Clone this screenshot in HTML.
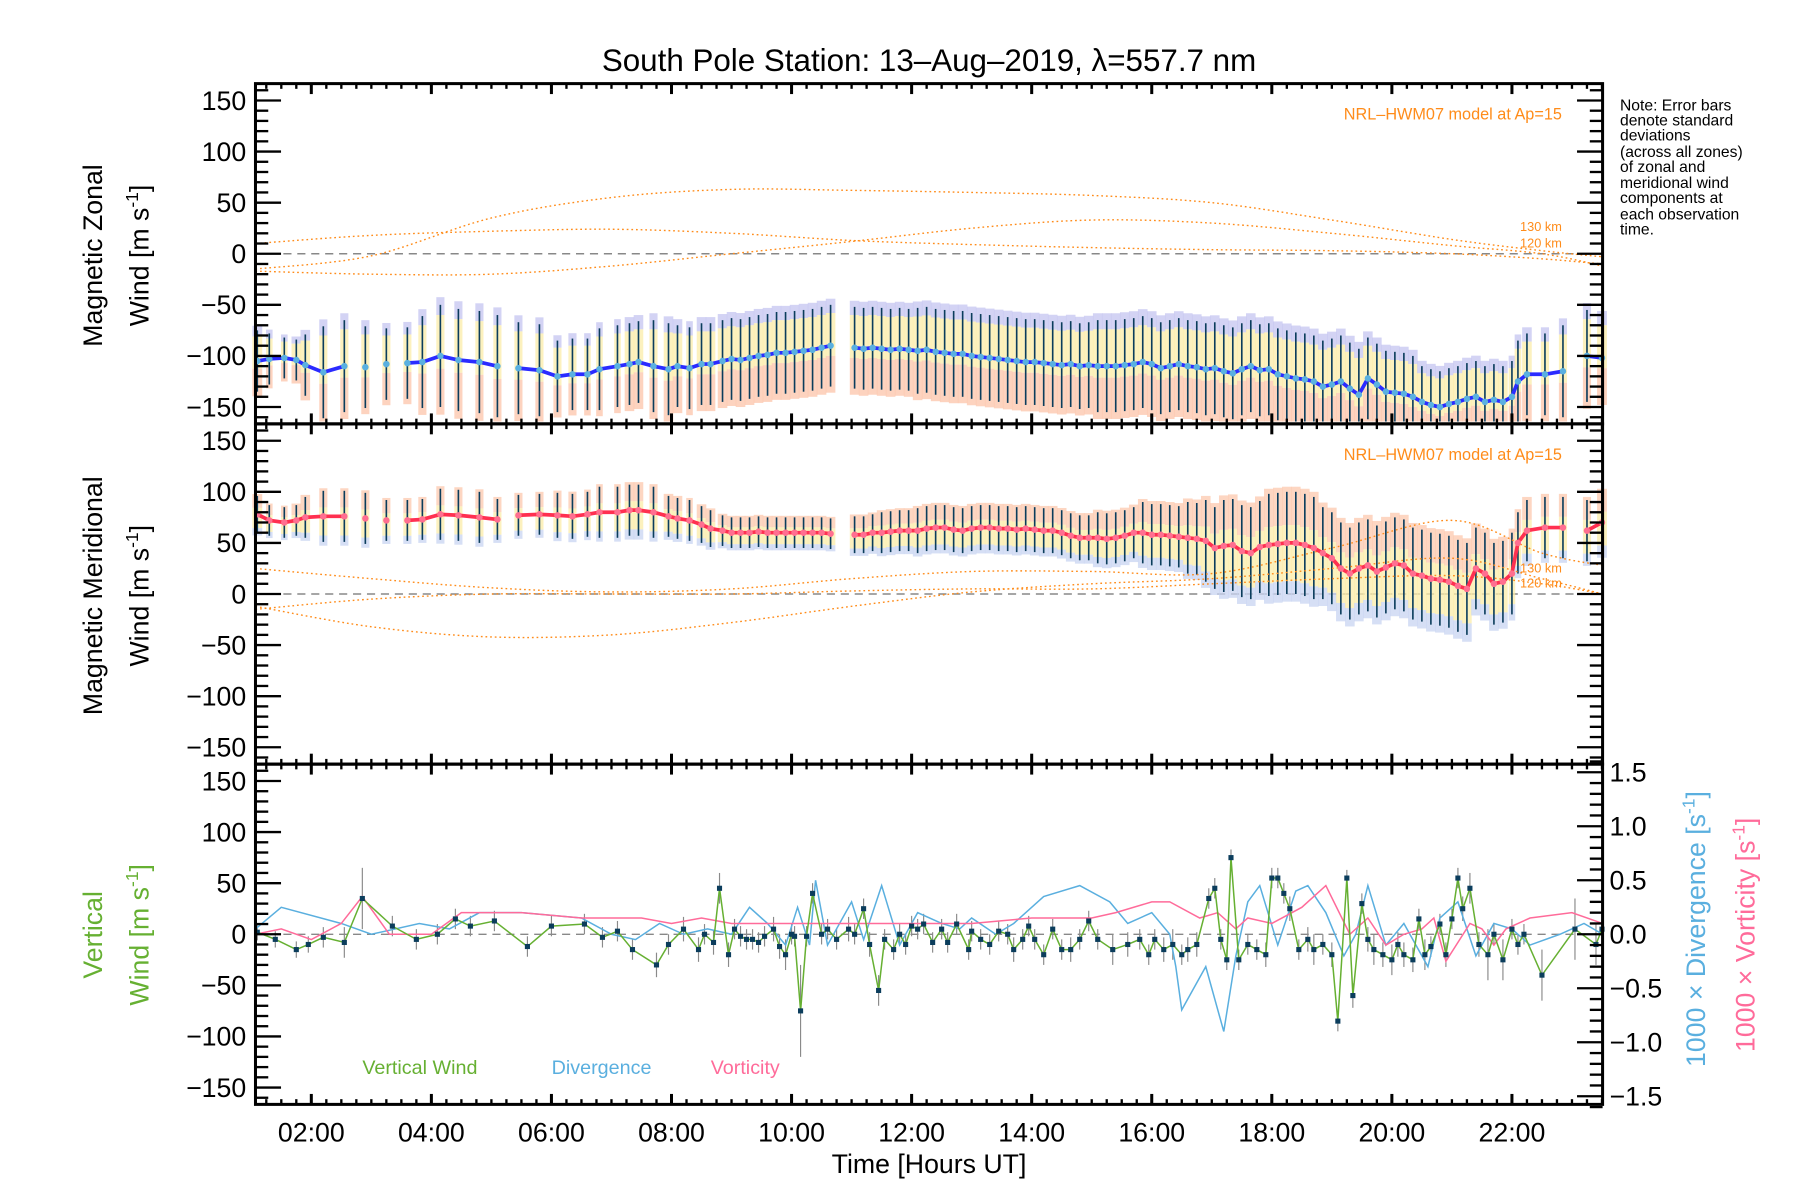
<!DOCTYPE html>
<html><head><meta charset="utf-8"><title>South Pole Station winds</title>
<style>
html,body{margin:0;padding:0;background:#fff;}
svg{display:block;font-family:"Liberation Sans",sans-serif;}
</style></head>
<body>
<svg id="chart" xmlns="http://www.w3.org/2000/svg" width="1800" height="1200" viewBox="0 0 1550 1033.33">
<rect x="0" y="0" width="1550" height="1034" fill="#fff"/>
<text x="800" y="61" font-size="27" text-anchor="middle">South Pole Station: 13–Aug–2019, λ=557.7 nm</text>
<g id="layer-samples"></g>
<g id="layer-lines"></g>
<g id="layer-axes"></g>
<g font-size="23">
<text transform="translate(88,220) rotate(-90)" text-anchor="middle">Magnetic Zonal</text>
<text transform="translate(128,220) rotate(-90)" text-anchor="middle">Wind [m s<tspan dy="-9" font-size="15">-1</tspan><tspan dy="9">]</tspan></text>
</g>
<g font-size="23">
<text transform="translate(88,513) rotate(-90)" text-anchor="middle">Magnetic Meridional</text>
<text transform="translate(128,513) rotate(-90)" text-anchor="middle">Wind [m s<tspan dy="-9" font-size="15">-1</tspan><tspan dy="9">]</tspan></text>
</g>
<g font-size="23" fill="#66b032">
<text transform="translate(88,805) rotate(-90)" text-anchor="middle">Vertical</text>
<text transform="translate(128,805) rotate(-90)" text-anchor="middle">Wind [m s<tspan dy="-9" font-size="15">-1</tspan><tspan dy="9">]</tspan></text>
</g>
<text transform="translate(1468,800) rotate(-90)" text-anchor="middle" font-size="23" fill="#5aafdf">1000 × Divergence [s<tspan dy="-9" font-size="15">-1</tspan><tspan dy="9">]</tspan></text>
<text transform="translate(1511,805) rotate(-90)" text-anchor="middle" font-size="23" fill="#ff6b9a">1000 × Vorticity [s<tspan dy="-9" font-size="15">-1</tspan><tspan dy="9">]</tspan></text>
<text x="800" y="1010" font-size="23" text-anchor="middle">Time [Hours UT]</text>
<g font-size="13.5">
<text x="1395" y="95">Note: Error bars</text>
<text x="1395" y="108">denote standard</text>
<text x="1395" y="121">deviations</text>
<text x="1395" y="135">(across all zones)</text>
<text x="1395" y="148">of zonal and</text>
<text x="1395" y="162">meridional wind</text>
<text x="1395" y="175">components at</text>
<text x="1395" y="189">each observation</text>
<text x="1395" y="202">time.</text>
</g>
<g fill="#ff8c1a">
<text x="1345" y="103" font-size="14" text-anchor="end">NRL–HWM07 model at Ap=15</text>
<text x="1345" y="199" font-size="11" text-anchor="end">130 km</text>
<text x="1345" y="213" font-size="11" text-anchor="end">120 km</text>
<text x="1345" y="396" font-size="14" text-anchor="end">NRL–HWM07 model at Ap=15</text>
<text x="1345" y="493" font-size="11" text-anchor="end">130 km</text>
<text x="1345" y="506" font-size="11" text-anchor="end">120 km</text>
</g>
<text x="312" y="925" font-size="17" fill="#66b032">Vertical Wind</text>
<text x="475" y="925" font-size="17" fill="#5aafdf">Divergence</text>
<text x="612" y="925" font-size="17" fill="#ff6b9a">Vorticity</text>
</svg>
<script>
// ---------- data ----------
const times = [1.1,1.3,1.55,1.75,1.9,2.2,2.55,2.9,3.25,3.6,
 3.85,4.15,4.45,4.8,5.1,5.45,5.8,6.1,6.35,6.6,
 6.8,7.1,7.3,7.45,7.7,7.95,8.1,8.3,8.5,8.65,
 8.85,9.0,9.15,9.3,9.45,9.6,9.75,9.9,10.05,10.2,
 10.35,10.5,10.65,11.05,11.2,11.35,11.5,11.65,11.8,11.95,
 12.1,12.25,12.4,12.55,12.7,12.85,13.0,13.15,13.3,13.45,
 13.6,13.75,13.9,14.05,14.2,14.35,14.5,14.65,14.8,14.95,
 15.1,15.25,15.4,15.55,15.7,15.85,16.0,16.15,16.3,16.45,
 16.6,16.75,16.9,17.05,17.2,17.35,17.5,17.65,17.8,17.95,
 18.1,18.25,18.4,18.55,18.7,18.85,19.0,19.15,19.3,19.45,
 19.6,19.75,19.9,20.05,20.2,20.35,20.5,20.65,20.8,20.95,
 21.1,21.25,21.4,21.55,21.7,21.85,22.0,22.1,22.25,22.55,
 22.85,23.25,23.5];
const zonal = [-105,-103,-102,-104,-109,-116,-110,-111,-108,-107,
 -106,-100,-104,-106,-110,-112,-114,-120,-118,-118,
 -113,-110,-108,-106,-110,-113,-110,-112,-108,-108,
 -105,-103,-104,-102,-100,-99,-97,-97,-96,-95,
 -94,-92,-90,-92,-93,-92,-93,-94,-93,-94,
 -95,-94,-96,-97,-98,-98,-100,-101,-102,-103,
 -104,-105,-106,-106,-107,-108,-109,-108,-110,-109,
 -110,-110,-110,-109,-108,-106,-108,-112,-110,-108,
 -110,-111,-113,-112,-115,-117,-113,-110,-114,-113,
 -118,-120,-122,-123,-125,-130,-128,-125,-132,-138,
 -122,-128,-135,-136,-137,-140,-145,-148,-150,-147,
 -145,-142,-140,-145,-143,-145,-140,-125,-118,-118,
 -115,-100,-102];
const zonalSd = [30,25,20,20,30,45,45,40,35,35,
 45,50,50,50,50,45,45,35,35,35,
 40,40,40,40,45,45,40,40,40,40,
 40,40,40,40,40,40,40,40,40,40,
 40,40,40,40,40,40,40,40,40,40,
 42,42,42,42,42,42,42,42,42,42,
 42,42,42,42,42,42,42,42,42,42,
 45,45,45,45,45,45,45,45,45,45,
 45,45,45,45,45,45,45,45,45,45,
 45,45,45,45,45,45,45,45,45,45,
 40,40,40,40,40,40,35,35,35,35,
 35,35,35,35,35,35,35,40,40,40,
 45,45,40];
const merid = [78,72,70,72,75,76,76,74,72,72,
 73,78,77,75,73,77,78,77,76,78,
 80,80,82,82,80,76,74,72,68,64,
 62,60,60,60,61,60,60,60,60,60,
 60,60,59,58,58,60,60,61,62,62,
 62,64,65,65,63,62,64,65,65,64,
 64,63,64,63,62,62,60,57,55,55,
 55,54,55,57,60,60,58,58,57,56,
 55,54,52,45,47,48,42,40,46,48,
 49,50,50,48,45,40,35,25,20,25,
 28,22,26,30,28,20,18,15,14,12,
 8,5,25,20,10,12,20,50,62,65,
 65,62,70];
const meridSd = [18,15,15,15,20,25,25,25,20,20,
 20,25,25,25,20,20,20,22,22,22,
 25,25,25,25,25,20,20,20,18,18,
 15,15,15,15,15,15,15,15,15,15,
 15,15,15,18,18,18,20,20,20,20,
 22,22,22,22,22,22,22,22,22,22,
 22,22,22,22,22,22,22,22,22,22,
 25,25,25,25,25,30,30,30,30,30,
 35,35,40,40,45,45,45,45,45,50,
 50,50,50,50,50,45,45,45,45,45,
 45,45,45,45,45,45,45,45,45,45,
 45,45,40,40,40,40,40,30,30,30,
 30,30,30];
// HWM07 model curves
const hwmTime = [1.07,3,5,7,9,11,13,15,17,19,21,22.5,23.51];
const hwmZonal130 = [10,18,22,24,20,13,9,6,4,3,0,-5,-10];
const hwmZonal120 = [-15,-2,35,55,63,62,60,57,50,33,14,3,-3];
const hwmZonal110 = [-17,-20,-20,-12,0,12,25,33,30,20,8,0,-12];
const hwmMerid130 = [25,15,6,2,5,15,22,22,20,45,72,40,28];
const hwmMerid120 = [-12,-32,-42,-40,-28,-12,2,10,15,25,35,15,0];
const hwmMerid110 = [-15,-5,0,0,0,3,5,5,10,15,18,10,0];
// vertical wind
const vTime = [1.1,1.4,1.75,1.95,2.2,2.55,2.85,3.35,3.75,4.1,
 4.4,4.65,5.05,5.6,6.0,6.55,6.85,7.1,7.35,7.75,
 7.95,8.2,8.45,8.55,8.7,8.8,8.95,9.05,9.15,9.25,
 9.35,9.45,9.55,9.7,9.8,9.9,10.0,10.05,10.15,10.25,
 10.35,10.5,10.6,10.75,10.95,11.05,11.2,11.3,11.45,11.55,
 11.7,11.8,11.9,12.0,12.1,12.2,12.35,12.5,12.6,12.75,
 12.95,13.0,13.15,13.3,13.45,13.6,13.7,13.85,13.95,14.05,
 14.2,14.35,14.5,14.65,14.8,14.95,15.1,15.35,15.6,15.8,
 15.95,16.05,16.2,16.35,16.5,16.6,16.75,16.95,17.05,17.15,
 17.25,17.32,17.45,17.6,17.75,17.9,18.0,18.1,18.2,18.3,
 18.45,18.6,18.7,18.85,19.0,19.1,19.25,19.35,19.5,19.6,
 19.7,19.85,20.0,20.1,20.2,20.35,20.45,20.55,20.65,20.8,
 20.9,21.0,21.1,21.18,21.3,21.45,21.6,21.7,21.85,22.0,
 22.1,22.2,22.5,23.05,23.4,23.5];
const vWind = [2,-5,-15,-10,-3,-8,35,8,-5,0,
 15,8,13,-12,8,10,-3,3,-15,-30,
 -10,5,-15,0,-8,45,-20,5,-2,-5,
 -5,-8,-2,5,-12,-20,0,-2,-75,-2,
 40,0,5,-5,5,0,25,-10,-55,-5,
 -15,0,-10,8,5,10,-8,5,-8,10,
 -15,3,-5,-10,3,0,-15,-5,8,-5,
 -20,5,-15,-15,-5,13,-5,-15,-10,-5,
 -20,-5,-15,-10,-20,-15,-10,35,45,-5,
 -25,75,-25,-10,-15,-20,55,55,40,25,
 -15,-5,-15,-10,-20,-85,55,-60,30,-5,
 -15,-20,-25,-10,-20,-25,15,-20,-12,10,
 -20,15,55,25,45,-10,-20,0,-25,5,
 -10,0,-40,5,-10,5];
const vErr = [8,8,8,8,10,15,30,10,10,10,
 10,10,10,10,10,10,10,10,10,12,
 10,12,12,10,12,15,12,10,10,10,
 10,10,10,12,12,15,10,10,45,10,
 10,10,10,10,12,10,10,12,15,10,
 10,10,10,10,10,10,10,10,10,10,
 10,10,10,10,10,10,12,10,10,10,
 10,10,10,12,10,10,10,15,12,10,
 10,10,12,15,10,12,12,10,10,10,
 10,8,10,10,10,12,10,10,10,12,
 10,12,15,10,12,10,8,12,10,12,
 15,12,15,12,12,12,10,15,10,10,
 12,10,10,12,15,12,25,10,20,10,
 10,10,25,30,20,10];
const divTime = [1.07,1.5,2.5,3.0,3.8,4.3,4.8,5.5,6.5,7.0,7.4,7.8,8.2,8.6,9.0,9.3,9.6,9.9,10.1,10.3,10.4,10.6,11.0,11.2,11.5,11.8,12.1,12.5,12.8,13.0,13.4,13.7,14.2,14.8,15.3,15.6,16.0,16.3,16.4,16.5,16.9,17.2,17.4,17.6,17.8,18.1,18.4,18.6,18.9,19.2,19.4,19.6,19.9,20.2,20.6,20.8,21.1,21.4,21.7,22.0,22.3,22.8,23.2,23.51];
const divergence = [0.05,0.25,0.1,0.0,0.1,0.05,0.2,0.2,0.15,0.0,-0.05,0.1,0.0,0.05,0.0,0.25,0.1,-0.1,0.25,-0.1,0.5,-0.1,0.3,-0.05,0.45,-0.1,0.2,0.1,0.05,0.15,0.0,0.1,0.35,0.45,0.3,0.1,0.2,0.0,-0.3,-0.7,-0.3,-0.9,-0.2,0.3,0.45,-0.1,0.4,0.45,0.2,-0.2,0.0,0.45,-0.1,0.1,-0.3,0.15,0.3,-0.2,0.1,0.05,-0.1,0.0,0.1,0.0];
const vorTime = [1.07,1.5,2.0,2.5,2.85,3.3,4.0,4.5,5.5,6.5,7.5,8.0,8.5,9.0,10.0,11.0,12.0,13.0,14.0,15.0,15.4,16.0,16.3,16.8,17.1,17.4,17.6,18.0,18.5,18.9,19.3,19.6,19.9,20.2,20.5,20.7,20.9,21.3,21.5,21.7,21.9,22.3,23.0,23.51];
const vorticity = [0.0,0.05,-0.05,0.1,0.35,0.0,0.0,0.2,0.2,0.15,0.15,0.1,0.15,0.1,0.1,0.1,0.1,0.1,0.15,0.15,0.2,0.3,0.3,0.15,0.2,0.05,0.15,0.1,0.25,0.45,0.0,0.15,-0.1,0.0,0.05,0.15,-0.25,0.1,0.05,-0.1,0.05,0.15,0.2,0.1];
const xTickLabels = ["02:00","04:00","06:00","08:00","10:00","12:00","14:00","16:00","18:00","20:00","22:00"];
const yTickLabels = ["150","100","50","0","\u221250","\u2212100","\u2212150"];
const rTickLabels = ["1.5","1.0","0.5","0.0","\u22120.5","\u22121.0","\u22121.5"];

// ---------- scales ----------
const NS = "http://www.w3.org/2000/svg";
const X0 = 220, X1 = 1380, H0 = 1.07, H1 = 23.51;
const panelTop = [72, 365, 658], PH = 293, VR = 166.5;
function X(h){ return X0 + (h - H0) / (H1 - H0) * (X1 - X0); }
function Y(p, v){ return panelTop[p] + PH/2 - v * (PH/2) / VR; }
function YR(v){ return panelTop[2] + PH/2 - v * 93; }
function mk(tag, attrs, parent){
  const e = document.createElementNS(NS, tag);
  for (const k in attrs) e.setAttribute(k, attrs[k]);
  parent.appendChild(e);
  return e;
}
const samples = document.getElementById('layer-samples');
const lines = document.getElementById('layer-lines');
const axes = document.getElementById('layer-axes');

function poly(xs, ys, fn, color, w, dash, name, parent){
  let d = '';
  for (let i = 0; i < xs.length; i++) d += (i ? 'L' : 'M') + X(xs[i]).toFixed(1) + ',' + fn(ys[i]).toFixed(1);
  const p = mk('path', {d: d, fill: 'none', stroke: color, 'stroke-width': w}, parent);
  if (dash) p.setAttribute('stroke-dasharray', dash);
  
  
  return p;
}
function smooth(xs, ys, fn, color, name, parent){
  let d = '';
  for (let i = 0; i < xs.length - 1; i++) {
    const x0 = X(xs[Math.max(i-1,0)]), y0 = fn(ys[Math.max(i-1,0)]);
    const x1 = X(xs[i]), y1 = fn(ys[i]);
    const x2 = X(xs[i+1]), y2 = fn(ys[i+1]);
    const x3 = X(xs[Math.min(i+2,xs.length-1)]), y3 = fn(ys[Math.min(i+2,xs.length-1)]);
    if (i === 0) d += 'M' + x1.toFixed(1) + ',' + y1.toFixed(1);
    d += 'C' + (x1 + (x2-x0)/6).toFixed(1) + ',' + (y1 + (y2-y0)/6).toFixed(1) + ' ' +
         (x2 - (x3-x1)/6).toFixed(1) + ',' + (y2 - (y3-y1)/6).toFixed(1) + ' ' + x2.toFixed(1) + ',' + y2.toFixed(1);
  }
  const p = mk('path', {d: d, fill: 'none', stroke: color, 'stroke-width': 1.2, 'stroke-dasharray': '1.5 2.5'}, parent);
  
  
}

// ---------- zero lines ----------
for (let p = 0; p < 3; p++) {
  const z = mk('line', {x1: X0, x2: X1, y1: Y(p,0), y2: Y(p,0), stroke: '#888', 'stroke-width': 1.2, 'stroke-dasharray': '7 5'}, samples);
  
  
}

// ---------- sample scatter bands & error bars (panels 1,2) ----------
function clampY(p, y){ return Math.max(panelTop[p] + 2, Math.min(panelTop[p] + PH - 2, y)); }
function band(p, x, w, vTop, vBot, col, op, name){
  const y1 = clampY(p, Y(p, vTop)), y2 = clampY(p, Y(p, vBot));
  if (y2 <= y1) return;
  const r = mk('rect', {x: x - w/2, y: y1, width: w, height: y2 - y1, fill: col, opacity: op}, samples);
  
  
}
function sampleBars(p, mean, sd, fracs, cols, nameBase){
  for (let i = 0; i < times.length; i++) {
    const x = X(times[i]);
    const gapL = i ? X(times[i]) - X(times[i-1]) : 8;
    const gapR = i < times.length - 1 ? X(times[i+1]) - X(times[i]) : 8;
    const g = Math.min(gapL, gapR);
    const w = g < 9 ? g + 0.5 : Math.min(7, g * 0.55);
    for (let k = 0; k < cols.length; k++) {
      band(p, x, w, mean[i] + sd[i]*fracs[k], mean[i] + sd[i]*fracs[k+1], cols[k], 0.75, nameBase + '-samples');
    }
    const e = mk('line', {x1: x, x2: x, y1: clampY(p, Y(p, mean[i] + sd[i])), y2: clampY(p, Y(p, mean[i] - sd[i])), stroke: '#0b3d5c', 'stroke-width': 1.4}, lines);
    
    
  }
}
sampleBars(0, zonal, zonalSd, [1.15, 0.8, -0.25, -1.15], ['#c4c4f0', '#fbeca8', '#fcc4aa'], 'zonal');
sampleBars(1, merid, meridSd, [1.1, 0.35, -0.75, -1.15], ['#fcc8ae', '#fbeca8', '#c8d4f2'], 'meridional');

// ---------- model curves ----------
smooth(hwmTime, hwmZonal130, v => Y(0, v), '#ff8c1a', 'zonal-hwm-130km', lines);
smooth(hwmTime, hwmZonal120, v => Y(0, v), '#ff8c1a', 'zonal-hwm-120km', lines);
smooth(hwmTime, hwmZonal110, v => Y(0, v), '#ff8c1a', 'zonal-hwm-110km', lines);
smooth(hwmTime, hwmMerid130, v => Y(1, v), '#ff8c1a', 'meridional-hwm-130km', lines);
smooth(hwmTime, hwmMerid120, v => Y(1, v), '#ff8c1a', 'meridional-hwm-120km', lines);
smooth(hwmTime, hwmMerid110, v => Y(1, v), '#ff8c1a', 'meridional-hwm-110km', lines);

// ---------- mean lines ----------
function meanLine(p, mean, color, dotCol, name){
  let segX = [], segY = [];
  const flush = () => { if (segX.length > 1) poly(segX, segY, v => Y(p, v), color, 3.2, null, name, lines); segX = []; segY = []; };
  for (let i = 0; i < times.length; i++) {
    if (i && times[i] - times[i-1] > 0.35) flush();
    segX.push(times[i]); segY.push(mean[i]);
  }
  flush();
  for (let i = 0; i < times.length; i++) {
    const c = mk('circle', {cx: X(times[i]), cy: Y(p, mean[i]), r: 2.8, fill: dotCol}, lines);
    
    
  }
}
meanLine(0, zonal, '#2b2bff', '#5ab0e0', 'zonal-mean-line');
meanLine(1, merid, '#ff3050', '#ff6f90', 'meridional-mean-line');

// ---------- panel 3 ----------
for (let i = 0; i < vTime.length; i++) {
  const e = mk('line', {x1: X(vTime[i]), x2: X(vTime[i]), y1: Y(2, vWind[i] + vErr[i]), y2: Y(2, vWind[i] - vErr[i]), stroke: '#8a8a8a', 'stroke-width': 1}, lines);
  
  
}
poly(divTime, divergence, YR, '#5aafdf', 1.3, null, 'divergence-line', lines);
poly(vorTime, vorticity, YR, '#ff6b9a', 1.3, null, 'vorticity-line', lines);
poly(vTime, vWind, v => Y(2, v), '#66b032', 1.3, null, 'vertical-wind-line', lines);
for (let i = 0; i < vTime.length; i++) {
  const s = mk('rect', {x: X(vTime[i]) - 2.2, y: Y(2, vWind[i]) - 2.2, width: 4.4, height: 4.4, fill: '#0b3d5c'}, lines);
  
  
}

// ---------- axes ----------
for (let p = 0; p < 3; p++) {
  const t = panelTop[p], b = t + PH;
  const fr = mk('rect', {x: X0, y: t, width: X1 - X0, height: PH, fill: 'none', stroke: '#000', 'stroke-width': 2.6}, axes);
  
  
  for (let h = 1.25; h <= H1; h += 0.25) {
    const major = Math.abs(h/2 - Math.round(h/2)) < 1e-6;
    const L = major ? 9 : 4.5, w = major ? 2.6 : 2;
    mk('line', {x1: X(h), x2: X(h), y1: t, y2: t + L, stroke: '#000', 'stroke-width': w}, axes);
    mk('line', {x1: X(h), x2: X(h), y1: b, y2: b - L, stroke: '#000', 'stroke-width': w}, axes);
  }
  for (let v = -160; v <= 160; v += 10) {
    const major = v % 50 === 0;
    const L = major ? 22 : 11;
    mk('line', {x1: X0, x2: X0 + L, y1: Y(p, v), y2: Y(p, v), stroke: '#000', 'stroke-width': 2}, axes);
    if (p < 2) mk('line', {x1: X1, x2: X1 - L, y1: Y(p, v), y2: Y(p, v), stroke: '#000', 'stroke-width': 2}, axes);
  }
  for (let k = 0; k < yTickLabels.length; k++) {
    const v = 150 - 50 * k;
    const tl = mk('text', {x: X0 - 8, y: Y(p, v) + 8, 'font-size': 23, 'text-anchor': 'end'}, axes);
    tl.textContent = yTickLabels[k];
    
    
  }
}
for (let k = -16; k <= 16; k++) {
  const v = k / 10;
  const major = k % 5 === 0;
  mk('line', {x1: X1, x2: X1 - (major ? 22 : 11), y1: YR(v), y2: YR(v), stroke: '#000', 'stroke-width': 2}, axes);
}
for (let k = 0; k < rTickLabels.length; k++) {
  const v = 1.5 - 0.5 * k;
  const tl = mk('text', {x: X1 + 6, y: YR(v) + 8, 'font-size': 23}, axes);
  tl.textContent = rTickLabels[k];
  
  
}
for (let k = 0; k < xTickLabels.length; k++) {
  const h = 2 + 2 * k;
  const tl = mk('text', {x: X(h), y: 983, 'font-size': 23, 'text-anchor': 'middle'}, axes);
  tl.textContent = xTickLabels[k];
  
  
}
</script>
</body></html>
